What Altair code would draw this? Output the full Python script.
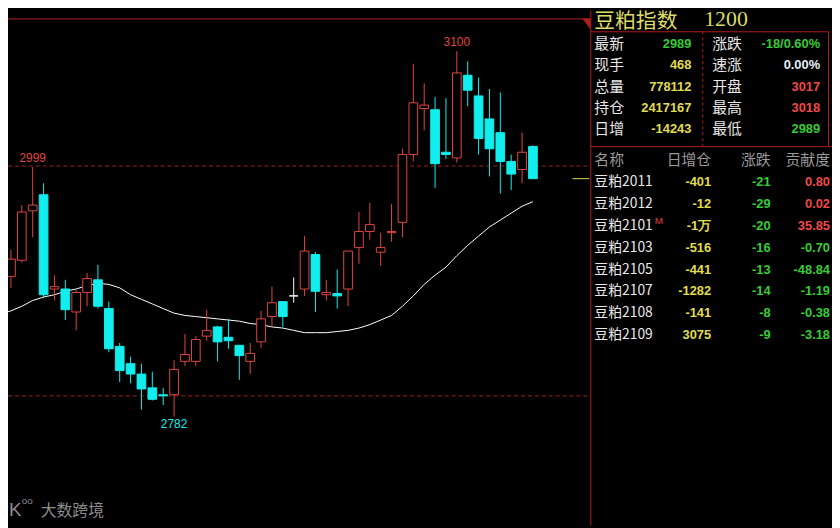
import altair as alt
import pandas as pd

# ---------------- data ----------------
opens  = [2886, 2904, 2918, 2961, 2975, 2893, 2893, 2873, 2890, 2901,
          2876, 2843, 2828, 2819, 2807, 2801, 2801, 2830, 2830, 2852,
          2860, 2851, 2844, 2830, 2847, 2869, 2882, 2887, 2893, 2923,
          2888, 2889, 2893, 2929, 2943, 2925, 2942, 2951, 3010, 3050,
          3049, 3012, 3007, 3079, 3061, 3041, 3029, 3004, 2997, 3017]
highs  = [2902, 2927, 2966, 2999, 2985, 2905, 2901, 2892, 2907, 2914,
          2882, 2846, 2834, 2828, 2821, 2807, 2831, 2854, 2852, 2875,
          2861, 2867, 2844, 2846, 2874, 2895, 2882, 2903, 2939, 2925,
          2901, 2910, 2926, 2960, 2968, 2942, 2967, 3015, 3089, 3072,
          3060, 3059, 3100, 3091, 3077, 3067, 3064, 3010, 3029, 3018]
lows   = [2883, 2894, 2916, 2938, 2885, 2883, 2866, 2857, 2878, 2876,
          2838, 2812, 2811, 2788, 2796, 2792, 2782, 2826, 2826, 2848,
          2830, 2841, 2814, 2819, 2842, 2860, 2860, 2881, 2887, 2873,
          2883, 2876, 2878, 2915, 2936, 2913, 2934, 2938, 3004, 3031,
          2981, 3006, 3003, 3052, 3010, 2991, 2976, 2979, 2985, 2989]
closes = [2897, 2919, 2960, 2966, 2888, 2895, 2875, 2890, 2902, 2878,
          2841, 2822, 2819, 2806, 2797, 2800, 2823, 2836, 2849, 2857,
          2847, 2848, 2835, 2837, 2867, 2881, 2869, 2887, 2926, 2891,
          2890, 2887, 2926, 2943, 2949, 2929, 2943, 3010, 3055, 3053,
          3002, 3010, 3081, 3066, 3024, 3015, 3004, 2993, 3012, 2989]
ma_vals = [2871, 2874, 2878, 2883, 2886, 2888, 2891, 2893, 2896, 2898,
           2897, 2894, 2888, 2884, 2880, 2876, 2872, 2870, 2869, 2868,
           2867, 2866, 2865, 2863, 2862, 2860, 2859, 2857, 2855, 2855,
           2855, 2856, 2857, 2859, 2862, 2866, 2870, 2878, 2887, 2897,
           2905, 2912, 2922, 2931, 2939, 2947, 2953, 2959, 2965, 2969]
grid_levels = [3000, 2800]
mark_high_idx = [3, 42]
mark_low_idx = [16]

title_name = "豆粕指数"
title_code = "1200"
box_left_labels = ["最新", "现手", "总量", "持仓", "日增"]
box_left_values = ["2989", "468", "778112", "2417167", "-14243"]
box_left_tones = ["down", "vol", "vol", "vol", "vol"]
box_right_labels = ["涨跌", "速涨", "开盘", "最高", "最低"]
box_right_values = ["-18/0.60%", "0.00%", "3017", "3018", "2989"]
box_right_tones = ["down", "flat", "up", "up", "down"]

table_headers = ["名称", "日增仓", "涨跌", "贡献度"]
names = ["豆粕2011", "豆粕2012", "豆粕2101", "豆粕2103",
         "豆粕2105", "豆粕2107", "豆粕2108", "豆粕2109"]
oi_change = ["-401", "-12", "-1万", "-516", "-441", "-1282", "-141", "3075"]
price_change = [-21, -29, -20, -16, -13, -14, -8, -9]
contribution = [0.80, 0.02, 35.85, -0.70, -48.84, -1.19, -0.38, -3.18]
main_contract = "豆粕2101"
watermark = "大数跨境"

# ---------------- styles ----------------
RED = "#e2463f"
CYAN = "#12eeee"
WHITE = "#ffffff"
FRAME = "#b01e1e"
GRID = "#9a2424"
YEL = "#e0dc50"
TITLE_YEL = "#dcdc66"
GREEN = "#35cc35"
TXT = "#e8e8e8"
GRAY = "#9a9a9a"
CJK = "Noto Sans CJK SC"
NUM = "Liberation Sans"

W, H = 832, 520
X_DOM = [0.7286, 76.50]
Y_DOM = [2687.21, 3135.33]
DIR_DOM = ["up", "down", "flat"]
TONE_DOM = ["up", "down", "flat", "vol"]
TONE_RNG = ["#f04848", GREEN, "#e6eef8", YEL]


def xk(field):
    return alt.X(f"{field}:Q", scale=alt.Scale(domain=X_DOM, nice=False, zero=False), axis=None)


def yp(field):
    return alt.Y(f"{field}:Q", scale=alt.Scale(domain=Y_DOM, nice=False, zero=False), axis=None)


df = pd.DataFrame({"k": list(range(len(opens))), "o": opens, "h": highs,
                   "l": lows, "c": closes, "ma": ma_vals})
dir_expr = "datum.c > datum.o ? 'up' : (datum.c < datum.o ? 'down' : 'flat')"

one = alt.Data(values=[{}])

layers = []

# grid dashed lines
layers.append(
    alt.Chart(pd.DataFrame({"v": grid_levels})).mark_rule(
        color=GRID, strokeWidth=1, strokeDash=[4, 3]
    ).encode(x=alt.value(0), x2=alt.value(588), y=yp("v"))
)

# moving average
layers.append(
    alt.Chart(df).mark_line(color=WHITE, strokeWidth=1).encode(x=xk("k"), y=yp("ma"))
)

# wicks
layers.append(
    alt.Chart(df).transform_calculate(dir=dir_expr).mark_rule(strokeWidth=1).encode(
        x=xk("k"), y=yp("l"), y2="h:Q",
        color=alt.Color("dir:N", scale=alt.Scale(domain=DIR_DOM, range=[RED, CYAN, WHITE]), legend=None),
    )
)

# bodies
layers.append(
    alt.Chart(df).transform_calculate(
        dir=dir_expr, x0="datum.k - 0.4", x1="datum.k + 0.4"
    ).mark_rect(strokeWidth=1).encode(
        x=xk("x0"), x2="x1:Q", y=yp("o"), y2="c:Q",
        fill=alt.Fill("dir:N", scale=alt.Scale(domain=DIR_DOM, range=["#000000", CYAN, WHITE]), legend=None),
        stroke=alt.Stroke("dir:N", scale=alt.Scale(domain=DIR_DOM, range=[RED, CYAN, WHITE]), legend=None),
    )
)

# extreme labels
hi_df = pd.DataFrame({"k": mark_high_idx, "v": [highs[i] for i in mark_high_idx],
                      "t": [str(highs[i]) for i in mark_high_idx]})
lo_df = pd.DataFrame({"k": mark_low_idx, "v": [lows[i] for i in mark_low_idx],
                      "t": [str(lows[i]) for i in mark_low_idx]})
layers.append(
    alt.Chart(hi_df).mark_text(font=NUM, fontSize=12, color=RED, baseline="bottom", dy=-2).encode(
        x=xk("k"), y=yp("v"), text="t:N")
)
layers.append(
    alt.Chart(lo_df).mark_text(font=NUM, fontSize=12, color=CYAN, baseline="top", dy=3).encode(
        x=xk("k"), y=yp("v"), text="t:N")
)

# last price marker at right edge of price area
layers.append(
    alt.Chart(pd.DataFrame({"v": [closes[-1]]})).mark_rule(color=YEL, strokeWidth=1).encode(
        x=alt.value(570), x2=alt.value(587), y=yp("v"))
)

# ---------------- frame ----------------
def hrule(x1, x2, y, dash=None):
    kw = {"color": FRAME, "strokeWidth": 1}
    if dash:
        kw["strokeDash"] = dash
    return alt.Chart(one).mark_rule(**kw).encode(x=alt.value(x1), x2=alt.value(x2), y=alt.value(y))


def vrule(x, y1, y2, dash=None):
    kw = {"color": FRAME, "strokeWidth": 1}
    if dash:
        kw["strokeDash"] = dash
    return alt.Chart(one).mark_rule(**kw).encode(x=alt.value(x), y=alt.value(y1), y2=alt.value(y2))


layers += [
    hrule(0, 588, 8.5),
    vrule(588.5, 0, 520),
    hrule(588, 828, 21.5),
    vrule(828.5, 21, 137),
    hrule(588, 832, 137.5),
    vrule(701.5, 21, 137, dash=[3, 3]),
]
layers.append(
    alt.Chart(one).mark_point(shape="M-0.727,-1L0.727,-1L0.727,1Z", filled=True, size=121,
                              color=FRAME, opacity=1).encode(x=alt.value(584), y=alt.value(13.5))
)

# ---------------- right panel ----------------
layers.append(
    alt.Chart(alt.Data(values=[{"t": title_name}])).mark_text(
        font=CJK, fontSize=21, color=TITLE_YEL, align="left", baseline="alphabetic"
    ).encode(x=alt.value(592), y=alt.value(17.5), text="t:N")
)
layers.append(
    alt.Chart(alt.Data(values=[{"t": title_code}])).mark_text(
        font="Liberation Serif", fontSize=22, color=TITLE_YEL, align="left", baseline="alphabetic"
    ).encode(x=alt.value(703), y=alt.value(16), text="t:N")
)

box_df = pd.DataFrame({"row": list(range(5)), "ll": box_left_labels, "lv": box_left_values,
                       "lt": box_left_tones, "rl": box_right_labels, "rv": box_right_values,
                       "rt": box_right_tones})
box_y = alt.Y("row:Q", scale=alt.Scale(domain=[0, 4], range=[33.9, 120]), axis=None)
tone = lambda f: alt.Color(f"{f}:N", scale=alt.Scale(domain=TONE_DOM, range=TONE_RNG), legend=None)

layers.append(alt.Chart(box_df).mark_text(font=CJK, fontSize=15, color=TXT, align="left",
                                          baseline="middle").encode(x=alt.value(592), y=box_y, text="ll:N"))
layers.append(alt.Chart(box_df).mark_text(font=NUM, fontSize=13, fontWeight="bold", align="right",
                                          baseline="middle").encode(x=alt.value(690), y=box_y, text="lv:N",
                                                                    color=tone("lt")))
layers.append(alt.Chart(box_df).mark_text(font=CJK, fontSize=15, color=TXT, align="left",
                                          baseline="middle").encode(x=alt.value(711), y=box_y, text="rl:N"))
layers.append(alt.Chart(box_df).mark_text(font=NUM, fontSize=13, fontWeight="bold", align="right",
                                          baseline="middle").encode(x=alt.value(820), y=box_y, text="rv:N",
                                                                    color=tone("rt")))

# table
tab_y = alt.Y("row:Q", scale=alt.Scale(domain=[0, 8], range=[150.9, 328]), axis=None)
head_pos = [(592, "left"), (710, "right"), (770, "right"), (830, "right")]
for (xp, al), h in zip(head_pos, table_headers):
    layers.append(
        alt.Chart(alt.Data(values=[{"row": 0, "t": h}])).mark_text(
            font=CJK, fontSize=15, color=GRAY, align=al, baseline="middle"
        ).encode(x=alt.value(xp), y=tab_y, text="t:N")
    )

tab_df = pd.DataFrame({
    "row": list(range(1, len(names) + 1)),
    "name": names,
    "oi": oi_change,
    "chg": [str(v) for v in price_change],
    "chg_tone": ["up" if v > 0 else "down" for v in price_change],
    "con": [f"{v:.2f}" for v in contribution],
    "con_tone": ["up" if v > 0 else "down" for v in contribution],
})
layers.append(alt.Chart(tab_df).mark_text(font=CJK, fontSize=14, color=TXT, align="left",
                                          baseline="middle").encode(x=alt.value(592), y=tab_y, text="name:N"))
layers.append(alt.Chart(tab_df[tab_df["name"] == main_contract]).mark_text(
    font=NUM, fontSize=10, color="#e04040", align="left", baseline="middle", dy=-5
).encode(x=alt.value(653), y=tab_y, text=alt.value("M")))
layers.append(alt.Chart(tab_df).mark_text(font=NUM, fontSize=13, fontWeight="bold", color=YEL, align="right",
                                          baseline="middle").encode(x=alt.value(710), y=tab_y, text="oi:N"))
layers.append(alt.Chart(tab_df).mark_text(font=NUM, fontSize=13, fontWeight="bold", align="right",
                                          baseline="middle").encode(x=alt.value(770), y=tab_y, text="chg:N",
                                                                    color=tone("chg_tone")))
layers.append(alt.Chart(tab_df).mark_text(font=NUM, fontSize=13, fontWeight="bold", align="right",
                                          baseline="middle").encode(x=alt.value(830), y=tab_y, text="con:N",
                                                                    color=tone("con_tone")))

# watermark
layers.append(alt.Chart(alt.Data(values=[{"t": watermark}])).mark_text(
    font=CJK, fontSize=16, color="#8c8c8c", align="left", baseline="middle"
).encode(x=alt.value(33), y=alt.value(505), text="t:N"))
layers.append(alt.Chart(alt.Data(values=[{"t": "K"}])).mark_text(
    font=NUM, fontSize=19, color="#8c8c8c", align="left", baseline="middle"
).encode(x=alt.value(1), y=alt.value(504), text="t:N"))
layers.append(alt.Chart(alt.Data(values=[{"t": "oo"}])).mark_text(
    font=NUM, fontSize=10, color="#8c8c8c", align="left", baseline="middle"
).encode(x=alt.value(14), y=alt.value(495), text="t:N"))

chart = alt.layer(*layers).resolve_scale(
    x="independent", y="independent", color="independent", fill="independent", stroke="independent"
).properties(
    width=W, height=H, background="#000000", padding=0,
    autosize=alt.AutoSizeParams(type="none"),
).configure_view(strokeWidth=0)

chart.save("out.html", embed_options={"renderer": "svg", "actions": False})
